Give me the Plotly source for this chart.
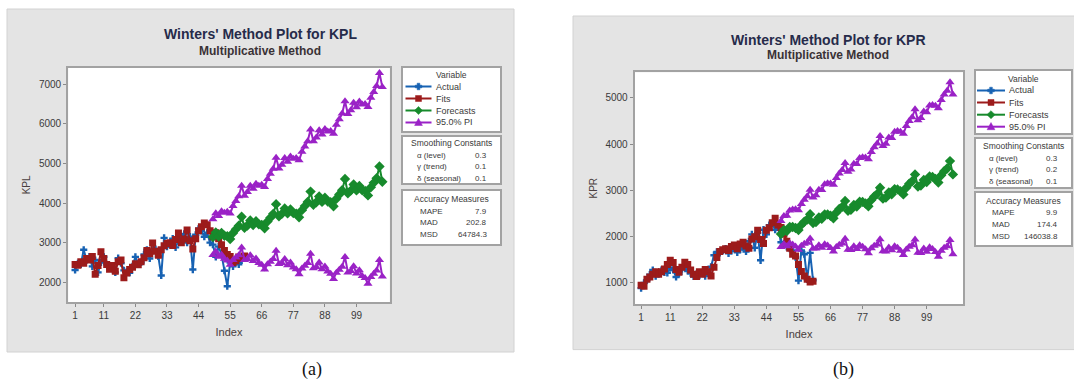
import plotly.graph_objects as go

# ---------------- data ----------------
tick_index = [1, 11, 22, 33, 44, 55, 66, 77, 88, 99]
kpl_ticks = [2000, 3000, 4000, 5000, 6000, 7000]
kpr_ticks = [1000, 2000, 3000, 4000, 5000]

obs_index = list(range(1, 61))      # periods with data
fc_index = list(range(49, 109))     # forecast periods

kpl_actual = [2310, 2480, 2450, 2820, 2560, 2650, 2400, 2560, 2250, 2500,
              2640, 2450, 2360, 2380, 2250, 2610, 2480, 2300, 2260, 2240,
              2400, 2640, 2460, 2500, 2700, 2820, 2600, 2800, 2840, 2650,
              2170, 3120, 2900, 2950, 3100, 2880, 3050, 3150, 3220, 3000,
              3150, 2320, 3200, 3350, 3300, 3150, 3250, 3000, 2950, 2640,
              2900, 2700, 2290, 1900, 2500, 2400, 2580, 2450, 2550, 2600]
kpl_fits = [2450, 2430, 2520, 2480, 2600, 2560, 2650, 2200, 2420, 2770,
            2600, 2450, 2330, 2420, 2280, 2520, 2560, 2110, 2230, 2320,
            2380, 2470, 2440, 2520, 2620, 2800, 2720, 2990, 2780, 2680,
            2820, 2920, 2980, 3000, 2930, 3080, 3245, 3000, 3090, 3320,
            3050, 2840, 3100, 3300, 3400, 3500, 3450, 3300, 3150, 3250,
            3100, 2950, 2800, 2700, 2650, 2500, 2540, 2640, 2600, 2665]
kpl_forecast = [3140, 3259, 3157, 3246, 3173, 3165, 3090, 3245, 3336, 3428, 3656, 3375,
                3434, 3562, 3448, 3543, 3461, 3450, 3366, 3533, 3630, 3728, 3973, 3667,
                3728, 3865, 3739, 3840, 3749, 3735, 3643, 3822, 3924, 4027, 4291, 3958,
                4022, 4168, 4030, 4137, 4038, 4020, 3919, 4110, 4218, 4327, 4608, 4249,
                4316, 4471, 4321, 4433, 4326, 4305, 4195, 4398, 4512, 4627, 4926, 4540]
kpl_upper = [3590, 3742, 3673, 3795, 3755, 3780, 3738, 3926, 4050, 4175, 4436, 4188,
             4280, 4441, 4360, 4488, 4439, 4461, 4410, 4610, 4740, 4871, 5149, 4876,
             4970, 5140, 5047, 5181, 5123, 5142, 5083, 5295, 5430, 5566, 5863, 5563,
             5660, 5839, 5734, 5874, 5808, 5823, 5755, 5979, 6120, 6262, 6576, 6250,
             6350, 6538, 6421, 6566, 6492, 6504, 6427, 6663, 6810, 6958, 7290, 6937]
kpl_lower = [2690, 2776, 2641, 2697, 2591, 2550, 2442, 2564, 2622, 2681, 2876, 2562,
             2588, 2683, 2536, 2598, 2483, 2439, 2322, 2456, 2520, 2585, 2797, 2458,
             2486, 2590, 2431, 2499, 2375, 2328, 2203, 2349, 2418, 2488, 2719, 2353,
             2384, 2497, 2326, 2400, 2268, 2217, 2083, 2241, 2316, 2392, 2640, 2248,
             2282, 2404, 2221, 2300, 2160, 2106, 1963, 2133, 2214, 2296, 2562, 2143]

kpr_actual = [890, 1000, 1060, 1180, 1280, 1150, 1190, 1280, 1230, 1220,
              1330, 1280, 1130, 1200, 1300, 1330, 1260, 1210, 1140, 1190,
              1160, 1220, 1150, 1230, 1350, 1600, 1670, 1650, 1700, 1740,
              1640, 1690, 1750, 1660, 1720, 1780, 1680, 1900, 2050, 1760,
              2080, 1490, 2150, 2050, 2250, 2280, 2150, 2200, 1880, 1850,
              1780, 1740, 1700, 1560, 1050, 1700, 1620, 1080, 1650, 1060]
kpr_fits = [950, 930, 1080, 1130, 1190, 1240, 1190, 1240, 1300, 1400,
            1490, 1440, 1290, 1230, 1340, 1450, 1400, 1280, 1190, 1140,
            1240, 1190, 1290, 1240, 1150, 1340, 1550, 1680, 1720, 1740,
            1700, 1790, 1820, 1740, 1840, 1880, 1800, 1750, 1950, 2000,
            2140, 1940, 1850, 2140, 2190, 2300, 2400, 2250, 2200, 2050,
            1900, 1750, 1620, 1580, 1400, 1250, 1150, 1080, 1020, 1040]
kpr_forecast = [2056, 2143, 2122, 2209, 2210, 2188, 2142, 2255, 2323, 2369, 2486, 2296,
                2318, 2413, 2386, 2482, 2480, 2452, 2399, 2522, 2596, 2644, 2772, 2558,
                2580, 2683, 2651, 2755, 2750, 2717, 2655, 2789, 2868, 2920, 3058, 2820,
                2842, 2953, 2916, 3027, 3020, 2982, 2912, 3057, 3141, 3195, 3344, 3082,
                3104, 3223, 3180, 3300, 3290, 3246, 3168, 3324, 3414, 3471, 3631, 3344]
kpr_upper = [2336, 2448, 2451, 2563, 2588, 2591, 2569, 2707, 2799, 2870, 3011, 2846,
             2892, 3012, 3009, 3130, 3152, 3149, 3120, 3268, 3366, 3439, 3591, 3402,
             3448, 3576, 3568, 3697, 3716, 3708, 3670, 3829, 3932, 4009, 4171, 3958,
             4004, 4140, 4127, 4263, 4280, 4267, 4221, 4391, 4499, 4578, 4751, 4514,
             4560, 4704, 4685, 4830, 4844, 4825, 4771, 4952, 5066, 5148, 5332, 5070]
kpr_lower = [1776, 1839, 1793, 1856, 1832, 1786, 1715, 1804, 1847, 1869, 1961, 1747,
             1744, 1815, 1763, 1835, 1808, 1756, 1678, 1777, 1826, 1850, 1953, 1715,
             1712, 1791, 1734, 1814, 1784, 1727, 1640, 1750, 1804, 1832, 1945, 1683,
             1680, 1767, 1705, 1792, 1760, 1698, 1603, 1724, 1783, 1813, 1937, 1651,
             1648, 1743, 1675, 1771, 1736, 1668, 1565, 1697, 1762, 1795, 1930, 1619]

series_names = ["Actual", "Fits", "Forecasts", "95.0% PI"]
kpl_smoothing = [("α (level)", "0.3"), ("γ (trend)", "0.1"), ("δ (seasonal)", "0.1")]
kpl_accuracy = [("MAPE", "7.9"), ("MAD", "202.8"), ("MSD", "64784.3")]
kpr_smoothing = [("α (level)", "0.3"), ("γ (trend)", "0.2"), ("δ (seasonal)", "0.1")]
kpr_accuracy = [("MAPE", "9.9"), ("MAD", "174.4"), ("MSD", "146038.8")]

# ---------------- styling / layout ----------------
W, H = 1074, 381
FONT = "Liberation Sans, Arial, sans-serif"
SERIF = "Liberation Serif, Times New Roman, serif"
C_ACT, C_FIT, C_FC, C_PI = "#1762b3", "#9c1b1b", "#178a2c", "#9a22c6"
PANEL_GRAY = "#e4e4e4"
FRAME = "#a2a2a2"


def fx(x):
    return x / W


def fy(y):
    return 1 - y / H


panels = [
    dict(key="", title="Winters' Method Plot for KPL", ylab="KPL",
         actual=kpl_actual, fits=kpl_fits, fc=kpl_forecast, up=kpl_upper, lo=kpl_lower,
         ticks=kpl_ticks, smooth=kpl_smoothing, acc=kpl_accuracy,
         gray=(7, 9, 514, 352), plot=(68.2, 67.8, 389.8, 302.0),
         xr=[-1.4, 110.6], yr=[1500, 7420], tx=260, ty=33.5, sy=51,
         leg=(402, 67, 501, 132), leg_ty=75, leg_rows=[86.5, 98.5, 110.5, 122.5],
         leg_line=(405.5, 431.5), leg_text=434,
         sm=(402, 136, 501, 184), sm_hy=143, sm_rows=[155, 166.5, 178],
         ac=(402, 190, 501, 245), ac_hy=198.5, ac_rows=[211, 222.7, 234.5],
         lab_x=415, val_x=489, cap=(312, 369, "(a)")),
    dict(key="2", title="Winters' Method Plot for KPR", ylab="KPR",
         actual=kpr_actual, fits=kpr_fits, fc=kpr_forecast, up=kpr_upper, lo=kpr_lower,
         ticks=kpr_ticks, smooth=kpr_smoothing, acc=kpr_accuracy,
         gray=(573, 16, 1080, 349.6), plot=(634.7, 72.2, 963.4, 304.3),
         xr=[-1.2, 111.6], yr=[540, 5550], tx=828, ty=40, sy=54.5,
         leg=(975, 70, 1072, 134), leg_ty=79, leg_rows=[90.5, 102.5, 114.7, 126.7],
         leg_line=(977, 1005), leg_text=1007,
         sm=(975, 138, 1072, 188), sm_hy=146, sm_rows=[158.5, 169.8, 181],
         ac=(975, 192, 1072, 246), ac_hy=201, ac_rows=[212.5, 224.3, 236],
         lab_x=987, val_x=1060, cap=(843, 369, "(b)")),
]

fig = go.Figure()
shapes = []
annotations = []


def text(s, x, y, size, color="#333333", xanchor="center", family=FONT, bold=False):
    annotations.append(dict(x=fx(x), y=fy(y), xref="paper", yref="paper",
                            text=f"<b>{s}</b>" if bold else s, showarrow=False,
                            xanchor=xanchor, yanchor="middle",
                            font=dict(family=family, size=size, color=color)))


def rect(box, fill, line_color, width):
    x0, y0, x1, y1 = box
    shapes.append(dict(type="rect", xref="paper", yref="paper", layer="below",
                       x0=fx(x0), x1=fx(x1), y0=fy(y1), y1=fy(y0),
                       fillcolor=fill, line=dict(color=line_color, width=width)))


def glyph(kind, cx, cy, color, r):
    if kind == "square":
        path = f"M{-r},{-r}L{r},{-r}L{r},{r}L{-r},{r}Z"
    elif kind == "diamond":
        q = r * 1.35
        path = f"M0,{-q}L{q},0L0,{q}L{-q},0Z"
    elif kind == "triangle":
        path = f"M{-r * 1.3},{-r}L{r * 1.3},{-r}L0,{r * 1.4}Z"
    else:  # cross
        a, b = r * 0.45, r * 1.1
        path = (f"M{-a},{-b}L{a},{-b}L{a},{-a}L{b},{-a}L{b},{a}L{a},{a}L{a},{b}"
                f"L{-a},{b}L{-a},{a}L{-b},{a}L{-b},{-a}L{-a},{-a}Z")
    shapes.append(dict(type="path", xref="paper", yref="paper", layer="above",
                       xsizemode="pixel", ysizemode="pixel",
                       xanchor=fx(cx), yanchor=fy(cy), path=path,
                       fillcolor=color, line=dict(color=color, width=0.5)))


axis_common = dict(showgrid=False, zeroline=False, showline=True, mirror=True,
                   linecolor=FRAME, linewidth=2, ticks="outside", ticklen=3,
                   tickwidth=1, tickcolor="#8a8a8a", automargin=False,
                   tickfont=dict(family=FONT, size=10, color="#3a3a3a"))

layout_axes = {}
for p in panels:
    xa, ya = "x" + p["key"], "y" + p["key"]
    styles = [
        (p["actual"], obs_index, C_ACT, "cross", 6, "Actual"),
        (p["fits"], obs_index, C_FIT, "square", 7, "Fits"),
        (p["fc"], fc_index, C_FC, "diamond", 8, "Forecasts"),
        (p["up"], fc_index, C_PI, "triangle-up", 8, "95.0% PI"),
        (p["lo"], fc_index, C_PI, "triangle-up", 8, "95.0% PI"),
    ]
    for vals, idx, color, sym, size, name in styles:
        fig.add_trace(go.Scatter(
            x=idx, y=vals, mode="lines+markers", name=name, xaxis=xa, yaxis=ya,
            line=dict(color=color, width=2),
            marker=dict(symbol=sym, size=size, color=color, line=dict(width=0)),
            showlegend=False, hoverinfo="skip"))

    x0, y0, x1, y1 = p["plot"]
    layout_axes["xaxis" + p["key"]] = dict(
        domain=[fx(x0), fx(x1)], range=p["xr"], tickvals=tick_index, anchor=ya,
        title=dict(text="Index", standoff=8,
                   font=dict(family=FONT, size=11, color="#4a4040")),
        **axis_common)
    layout_axes["yaxis" + p["key"]] = dict(
        domain=[fy(y1), fy(y0)], range=p["yr"], tickvals=p["ticks"], tickformat="d",
        anchor=xa,
        title=dict(text=p["ylab"], standoff=6,
                   font=dict(family=FONT, size=10, color="#4a4040")),
        **axis_common)

    # panel background and white plotting area
    rect(p["gray"], PANEL_GRAY, "#d2d2d2", 1)
    rect(p["plot"], "white", "rgba(0,0,0,0)", 0)

    # titles
    text(p["title"], p["tx"], p["ty"], 14, "#262b4a", bold=True)
    text("Multiplicative Method", p["tx"], p["sy"], 12, "#3a3236", bold=True)

    # legend box (drawn by hand to keep Minitab's compact spacing)
    rect(p["leg"], "white", FRAME, 2)
    lx0, _, lx1, _ = p["leg"]
    text("Variable", (lx0 + lx1) / 2, p["leg_ty"], 8.5, "#3a3a3a")
    kinds = ["cross", "square", "diamond", "triangle"]
    colors = [C_ACT, C_FIT, C_FC, C_PI]
    for name, kind, color, ry in zip(series_names, kinds, colors, p["leg_rows"]):
        a, b = p["leg_line"]
        shapes.append(dict(type="line", xref="paper", yref="paper", layer="above",
                           x0=fx(a), x1=fx(b), y0=fy(ry), y1=fy(ry),
                           line=dict(color=color, width=2)))
        glyph(kind, (a + b) / 2, ry, color, 3)
        text(name, p["leg_text"], ry, 9, "#3a3a3a", xanchor="left")

    # smoothing constants box
    rect(p["sm"], "white", FRAME, 2)
    sx0, _, sx1, _ = p["sm"]
    text("Smoothing Constants", (sx0 + sx1) / 2, p["sm_hy"], 8.5, "#3a3a3a")
    for (lab, val), ry in zip(p["smooth"], p["sm_rows"]):
        text(lab, p["lab_x"], ry, 8, "#3a3a3a", xanchor="left")
        text(val, p["val_x"], ry, 8, "#3a3a3a", xanchor="right")

    # accuracy measures box
    rect(p["ac"], "white", FRAME, 2)
    ax0, _, ax1, _ = p["ac"]
    text("Accuracy Measures", (ax0 + ax1) / 2, p["ac_hy"], 8.5, "#3a3a3a")
    for (lab, val), ry in zip(p["acc"], p["ac_rows"]):
        text(lab, p["lab_x"] + 3, ry, 8, "#3a3a3a", xanchor="left")
        text(val, p["val_x"], ry, 8, "#3a3a3a", xanchor="right")

    # caption
    cx, cy, ct = p["cap"]
    text(ct, cx, cy, 18, "#111111", family=SERIF)

fig.update_layout(
    template="none",
    width=W, height=H,
    margin=dict(l=0, r=0, t=0, b=0),
    paper_bgcolor="white", plot_bgcolor="white",
    showlegend=False,
    shapes=shapes, annotations=annotations,
    **layout_axes,
)

fig.write_html("out.html")
